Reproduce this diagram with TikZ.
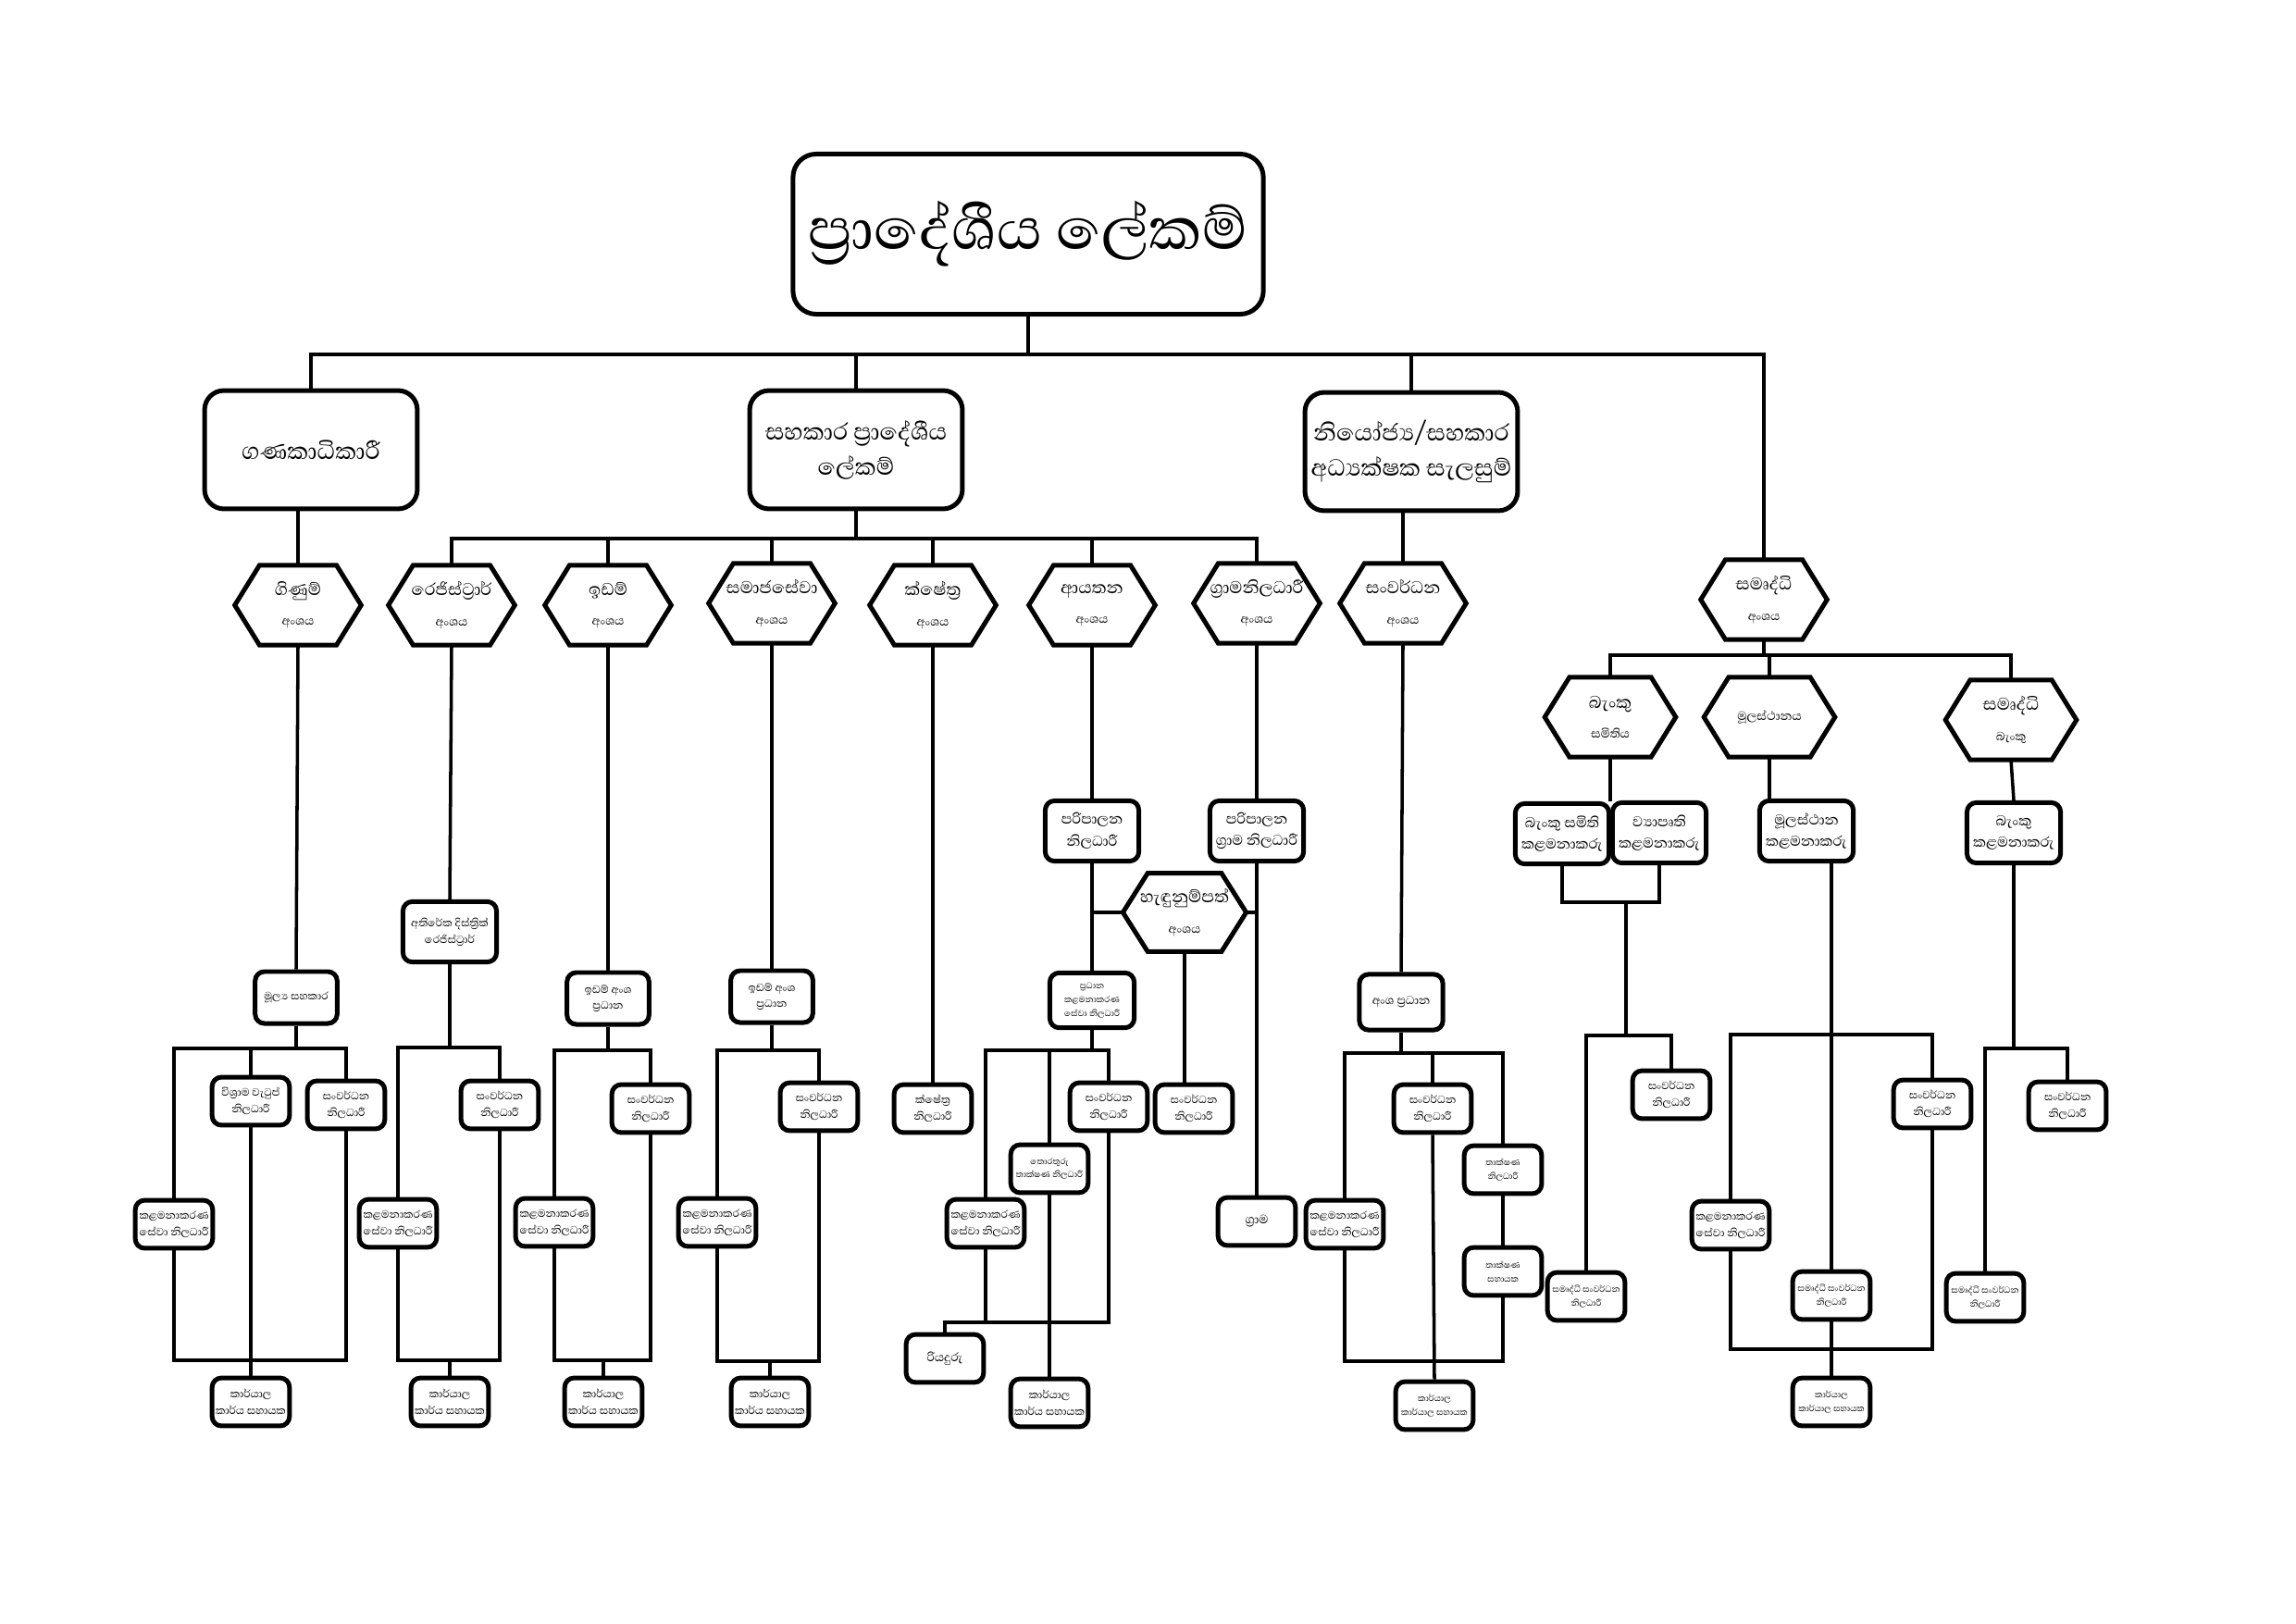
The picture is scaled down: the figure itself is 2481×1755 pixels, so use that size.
\documentclass[tikz,border=0pt]{standalone}
\usepackage{fontspec}
\newfontfamily\sinhala[Script=Sinhala]{Abhaya Libre}

\newcommand{\divtag}[1]{{\fontsize{5.6}{6.5}\selectfont #1}}

\tikzset{
  box/.style={draw, line width=1.7pt, rounded corners=0.12cm, align=center,
    inner sep=1pt, minimum width=1.0cm, minimum height=0.62cm,
    font=\sinhala\fontsize{5}{6}\selectfont},
  tinybox/.style={box, font=\sinhala\fontsize{4}{5}\selectfont},
  midbox/.style={box, minimum width=1.21cm, minimum height=0.78cm,
    font=\sinhala\fontsize{6.7}{8}\selectfont},
  bigbox/.style={box, rounded corners=0.25cm, minimum width=2.75cm,
    minimum height=1.53cm, font=\sinhala\fontsize{11}{13}\selectfont},
  hexa/.style={minimum width=1.62cm, minimum height=1.02cm, align=center,
    inner sep=1pt, font=\sinhala\fontsize{8}{9}\selectfont,
    append after command={\pgfextra{\draw[line width=1.7pt]
      ([xshift=0.32cm]\tikzlastnode.north west) -- ([xshift=-0.32cm]\tikzlastnode.north east)
      -- (\tikzlastnode.east) -- ([xshift=-0.32cm]\tikzlastnode.south east)
      -- ([xshift=0.32cm]\tikzlastnode.south west) -- (\tikzlastnode.west) -- cycle;}}},
  link/.style={line width=1.2pt},
}

\begin{document}
\begin{tikzpicture}[x=0.01197cm, y=-0.01197cm]
  \useasboundingbox (0,0) rectangle (2481,1755);

  % head and second level
  \node[box, rounded corners=0.3cm, minimum width=6.08cm, minimum height=2.07cm,
    font=\sinhala\fontsize{27.5}{30}\selectfont] (sec) at (1111,253) {ප්^^^^200dරාදේශීය ලේකම්};
  \node[bigbox] (acc) at (336,486) {ගණකාධිකාරී};
  \node[bigbox] (asst-sec) at (925,486) {සහකාර ප්^^^^200dරාදේශීය\\ලේකම්};
  \node[bigbox] (dep-dir) at (1525,488) {නියෝජ්^^^^200dය/සහකාර\\අධ්^^^^200dයක්ෂක සැලසුම්};

  % divisions
  \node[hexa] (acc-div) at (322,654) {ගිණුම්\\[2pt]\divtag{අංශය}};
  \node[hexa] (reg-div) at (488,654) {රෙජිස්ට්^^^^200dරාර්\\[2pt]\divtag{අංශය}};
  \node[hexa] (land-div) at (657,654) {ඉඩම්\\[2pt]\divtag{අංශය}};
  \node[hexa] (soc-div) at (834,652) {සමාජසේවා\\[2pt]\divtag{අංශය}};
  \node[hexa] (field-div) at (1008,654) {ක්ෂේත්^^^^200dර\\[2pt]\divtag{අංශය}};
  \node[hexa] (est-div) at (1180,654) {ආයතන\\[2pt]\divtag{අංශය}};
  \node[hexa] (gn-div) at (1358,652) {ග්^^^^200dරාමනිලධාරී\\[2pt]\divtag{අංශය}};
  \node[hexa] (dev-div) at (1516,652) {සංවර්ධන\\[2pt]\divtag{අංශය}};
  \node[hexa] (sam-div) at (1906,648) {සමෘද්ධි\\[2pt]\divtag{අංශය}};
  \node[hexa, minimum width=1.68cm] (bank-soc) at (1740,775) {බැංකු\\[2pt]\divtag{සමිතිය}};
  \node[hexa, minimum width=1.68cm, font=\sinhala\fontsize{5.7}{6.5}\selectfont] (hq) at (1912,775) {මූලස්ථානය};
  \node[hexa, minimum width=1.68cm] (sam-bank) at (2173,778) {සමෘද්ධි\\[2pt]\divtag{බැංකු}};
  \node[hexa, minimum width=1.58cm, minimum height=1.0cm] (nic-div) at (1280,986) {හැඳුනුම්පත්\\[2pt]\divtag{අංශය}};

  % accounts
  \node[box, minimum width=1.06cm, minimum height=0.67cm] (fin-asst) at (320,1078) {මූල්^^^^200dය සහකාර};
  \node[box] (pension) at (271,1190) {විශ්^^^^200dරාම වැටුප්\\නිලධාරී};
  \node[box] (dev1) at (374,1194) {සංවර්ධන\\නිලධාරී};
  \node[box] (km1) at (188,1323) {කළමනාකරණ\\සේවා නිලධාරී};
  \node[box] (office1) at (271,1515) {කාර්යාල\\කාර්ය සහායක};

  % registrar
  \node[box, minimum width=1.21cm, minimum height=0.78cm] (addl-reg) at (486,1007) {අතිරේක දිස්ත්^^^^200dරික්\\රෙජිස්ට්^^^^200dරාර්};
  \node[box] (dev2) at (540,1194) {සංවර්ධන\\නිලධාරී};
  \node[box] (km2) at (430,1322) {කළමනාකරණ\\සේවා නිලධාරී};
  \node[box] (office2) at (486,1515) {කාර්යාල\\කාර්ය සහායක};

  % land
  \node[box, minimum width=1.06cm, minimum height=0.67cm] (land-head1) at (657,1079) {ඉඩම් අංශ\\ප්^^^^200dරධාන};
  \node[box] (dev3) at (703,1198) {සංවර්ධන\\නිලධාරී};
  \node[box] (km3) at (599,1321) {කළමනාකරණ\\සේවා නිලධාරී};
  \node[box] (office3) at (652,1515) {කාර්යාල\\කාර්ය සහායක};

  % social services
  \node[box, minimum width=1.06cm, minimum height=0.67cm] (land-head2) at (834,1077) {ඉඩම් අංශ\\ප්^^^^200dරධාන};
  \node[box] (dev4) at (885,1196) {සංවර්ධන\\නිලධාරී};
  \node[box] (km4) at (775,1321) {කළමනාකරණ\\සේවා නිලධාරී};
  \node[box] (office4) at (832,1515) {කාර්යාල\\කාර්ය සහායක};

  % field
  \node[box] (field-off) at (1008,1198) {ක්ෂේත්^^^^200dර\\නිලධාරී};

  % establishment
  \node[midbox] (admin-off) at (1180,898) {පරිපාලන\\නිලධාරී};
  \node[tinybox, minimum width=1.09cm, minimum height=0.71cm] (head-km) at (1180,1081) {ප්^^^^200dරධාන\\කළමනාකරණ\\සේවා නිලධාරී};
  \node[box] (dev5) at (1198,1196) {සංවර්ධන\\නිලධාරී};
  \node[tinybox] (it-off) at (1134,1263) {තොරතුරු\\තාක්ෂණ නිලධාරී};
  \node[box] (km6) at (1065,1322) {කළමනාකරණ\\සේවා නිලධාරී};
  \node[box, font=\sinhala\fontsize{5.7}{6.5}\selectfont] (driver) at (1021,1468) {රියදුරු};
  \node[box] (office6) at (1134,1516) {කාර්යාල\\කාර්ය සහායක};
  \node[box] (dev6) at (1290,1198) {සංවර්ධන\\නිලධාරී};

  % grama niladhari
  \node[midbox] (gn-admin) at (1358,898) {පරිපාලන\\ග්^^^^200dරාම නිලධාරී};
  \node[box, font=\sinhala\fontsize{5.7}{6.5}\selectfont] (gram) at (1358,1320) {ග්^^^^200dරාම};

  % development
  \node[box, minimum width=1.08cm, minimum height=0.72cm, font=\sinhala\fontsize{5.4}{6.5}\selectfont] (sec-head) at (1514,1083) {අංශ ප්^^^^200dරධාන};
  \node[box] (dev8) at (1548,1198) {සංවර්ධන\\නිලධාරී};
  \node[tinybox] (tech-off) at (1624,1264) {තාක්ෂණ\\නිලධාරී};
  \node[tinybox] (tech-asst) at (1624,1374) {තාක්ෂණ\\සහායක};
  \node[box] (km8) at (1453,1323) {කළමනාකරණ\\සේවා නිලධාරී};
  \node[tinybox] (office8) at (1550,1519) {කාර්යාල\\කාර්යාල සහායක};

  % samurdhi
  \node[midbox] (bank-mgr) at (1688,901) {බැංකු සමිති\\කළමනාකරු};
  \node[midbox] (proj-mgr) at (1793,900) {ව්^^^^200dයාපෘති\\කළමනාකරු};
  \node[box] (dev9) at (1806,1183) {සංවර්ධන\\නිලධාරී};
  \node[tinybox] (sam-dev1) at (1714,1401) {සමෘද්ධි සංවර්ධන\\නිලධාරී};
  \node[midbox] (hq-mgr) at (1952,898) {මූලස්ථාන\\කළමනාකරු};
  \node[box] (dev10) at (2088,1193) {සංවර්ධන\\නිලධාරී};
  \node[box] (km10) at (1870,1324) {කළමනාකරණ\\සේවා නිලධාරී};
  \node[tinybox] (sam-dev2) at (1979,1400) {සමෘද්ධි සංවර්ධන\\නිලධාරී};
  \node[tinybox] (office10) at (1979,1515) {කාර්යාල\\කාර්යාල සහායක};
  \node[midbox] (sb-mgr) at (2176,900) {බැංකු\\කළමනාකරු};
  \node[box] (dev11) at (2234,1195) {සංවර්ධන\\නිලධාරී};
  \node[tinybox] (sam-dev3) at (2145,1402) {සමෘද්ධි සංවර්ධන\\නිලධාරී};

  % bus points
  \coordinate (top-bus) at (1111,383);
  \coordinate (mid-bus) at (925,582);
  \coordinate (sam-bus) at (1906,708);
  \coordinate (acc-bus) at (320,1133);
  \coordinate (acc-low) at (271,1470);
  \coordinate (reg-bus) at (486,1132);
  \coordinate (reg-low) at (486,1470);
  \coordinate (land-bus) at (657,1135);
  \coordinate (land-low) at (652,1470);
  \coordinate (soc-bus) at (834,1135);
  \coordinate (soc-low) at (832,1471);
  \coordinate (nic-left) at (1180,986);
  \coordinate (est-bus) at (1180,1135);
  \coordinate (est-low) at (1134,1429);
  \coordinate (dev-bus) at (1514,1138);
  \coordinate (dev-low) at (1548,1471);
  \coordinate (pair-join) at (1757,975);
  \coordinate (bank-bus) at (1757,1119);
  \coordinate (hq-bus) at (1979,1118);
  \coordinate (hq-low) at (1979,1458);
  \coordinate (sb-bus) at (2176,1133);

  % top levels
  \draw[link] (sec.south) -- (top-bus);
  \draw[link] (acc.north) |- (top-bus) -| (sam-div.north);
  \draw[link] (asst-sec.north) -- (asst-sec.north |- top-bus);
  \draw[link] (dep-dir.north) -- (dep-dir.north |- top-bus);
  \draw[link] (acc-div.north |- acc.south) -- (acc-div.north);
  \draw[link] (asst-sec.south) -- (mid-bus);
  \draw[link] (reg-div.north) |- (mid-bus) -| (gn-div.north);
  \foreach \d in {land-div,soc-div,field-div,est-div}
    \draw[link] (\d.north) -- (\d.north |- mid-bus);
  \draw[link] (dev-div.north |- dep-dir.south) -- (dev-div.north);
  \draw[link] (sam-div.south) -- (sam-bus);
  \draw[link] (bank-soc.north) |- (sam-bus) -| (sam-bank.north);
  \draw[link] (hq.north) -- (hq.north |- sam-bus);

  % accounts
  \draw[link] (acc-div.south) -- (fin-asst.north);
  \draw[link] (fin-asst.south) -- (acc-bus);
  \draw[link] (km1.north) |- (acc-bus) -| (dev1.north);
  \draw[link] (pension.north) -- (pension.north |- acc-bus);
  \draw[link] (km1.south) |- (acc-low) -| (dev1.south);
  \draw[link] (pension.south) -- (office1.north);

  % registrar
  \draw[link] (reg-div.south) -- (addl-reg.north);
  \draw[link] (addl-reg.south) -- (reg-bus);
  \draw[link] (km2.north) |- (reg-bus) -| (dev2.north);
  \draw[link] (km2.south) |- (reg-low) -| (dev2.south);
  \draw[link] (reg-low) -- (office2.north);

  % land
  \draw[link] (land-div.south) -- (land-head1.north);
  \draw[link] (land-head1.south) -- (land-bus);
  \draw[link] (km3.north) |- (land-bus) -| (dev3.north);
  \draw[link] (km3.south) |- (land-low) -| (dev3.south);
  \draw[link] (land-low) -- (office3.north);

  % social services
  \draw[link] (soc-div.south) -- (land-head2.north);
  \draw[link] (land-head2.south) -- (soc-bus);
  \draw[link] (km4.north) |- (soc-bus) -| (dev4.north);
  \draw[link] (km4.south) |- (soc-low) -| (dev4.south);
  \draw[link] (soc-low) -- (office4.north);

  % field
  \draw[link] (field-div.south) -- (field-off.north);

  % establishment
  \draw[link] (est-div.south) -- (admin-off.north);
  \draw[link] (admin-off.south) -- (head-km.north);
  \draw[link] (nic-left) -- (nic-div.west);
  \draw[link] (nic-div.east) -- (nic-div.east -| gn-admin.south);
  \draw[link] (nic-div.south) -- (nic-div.south |- dev6.north);
  \draw[link] (head-km.south) -- (est-bus);
  \draw[link] (km6.north) |- (est-bus) -| (dev5.north);
  \draw[link] (it-off.north) -- (it-off.north |- est-bus);
  \draw[link] (km6.south) -- (km6.south |- est-low);
  \draw[link] (driver.north) |- (est-low) -| (dev5.south);
  \draw[link] (it-off.south) -- (office6.north);

  % grama niladhari
  \draw[link] (gn-div.south) -- (gn-admin.north);
  \draw[link] (gn-admin.south) -- (gram.north);

  % development
  \draw[link] (dev-div.south) -- (sec-head.north);
  \draw[link] (sec-head.south) -- (dev-bus);
  \draw[link] (km8.north) |- (dev-bus) -| (tech-off.north);
  \draw[link] (dev8.north) -- (dev8.north |- dev-bus);
  \draw[link] (tech-off.south) -- (tech-asst.north);
  \draw[link] (km8.south) |- (dev-low) -| (tech-asst.south);
  \draw[link] (dev8.south) -- (office8.north);

  % samurdhi
  \draw[link] (bank-soc.south) -- (bank-soc.south |- bank-mgr.north);
  \draw[link] (bank-mgr.south) |- (pair-join) -| (proj-mgr.south);
  \draw[link] (pair-join) -- (bank-bus);
  \draw[link] (sam-dev1.north) |- (bank-bus) -| (dev9.north);
  \draw[link] (hq.south) -- (hq.south |- hq-mgr.north);
  \draw[link] (hq-bus |- hq-mgr.south) -- (hq-bus);
  \draw[link] (km10.north) |- (hq-bus) -| (dev10.north);
  \draw[link] (hq-bus) -- (sam-dev2.north);
  \draw[link] (km10.south) |- (hq-low) -| (dev10.south);
  \draw[link] (sam-dev2.south) -- (office10.north);
  \draw[link] (sam-bank.south) -- (sb-mgr.north);
  \draw[link] (sb-mgr.south) -- (sb-bus);
  \draw[link] (sam-dev3.north) |- (sb-bus) -| (dev11.north);
\end{tikzpicture}
\end{document}
